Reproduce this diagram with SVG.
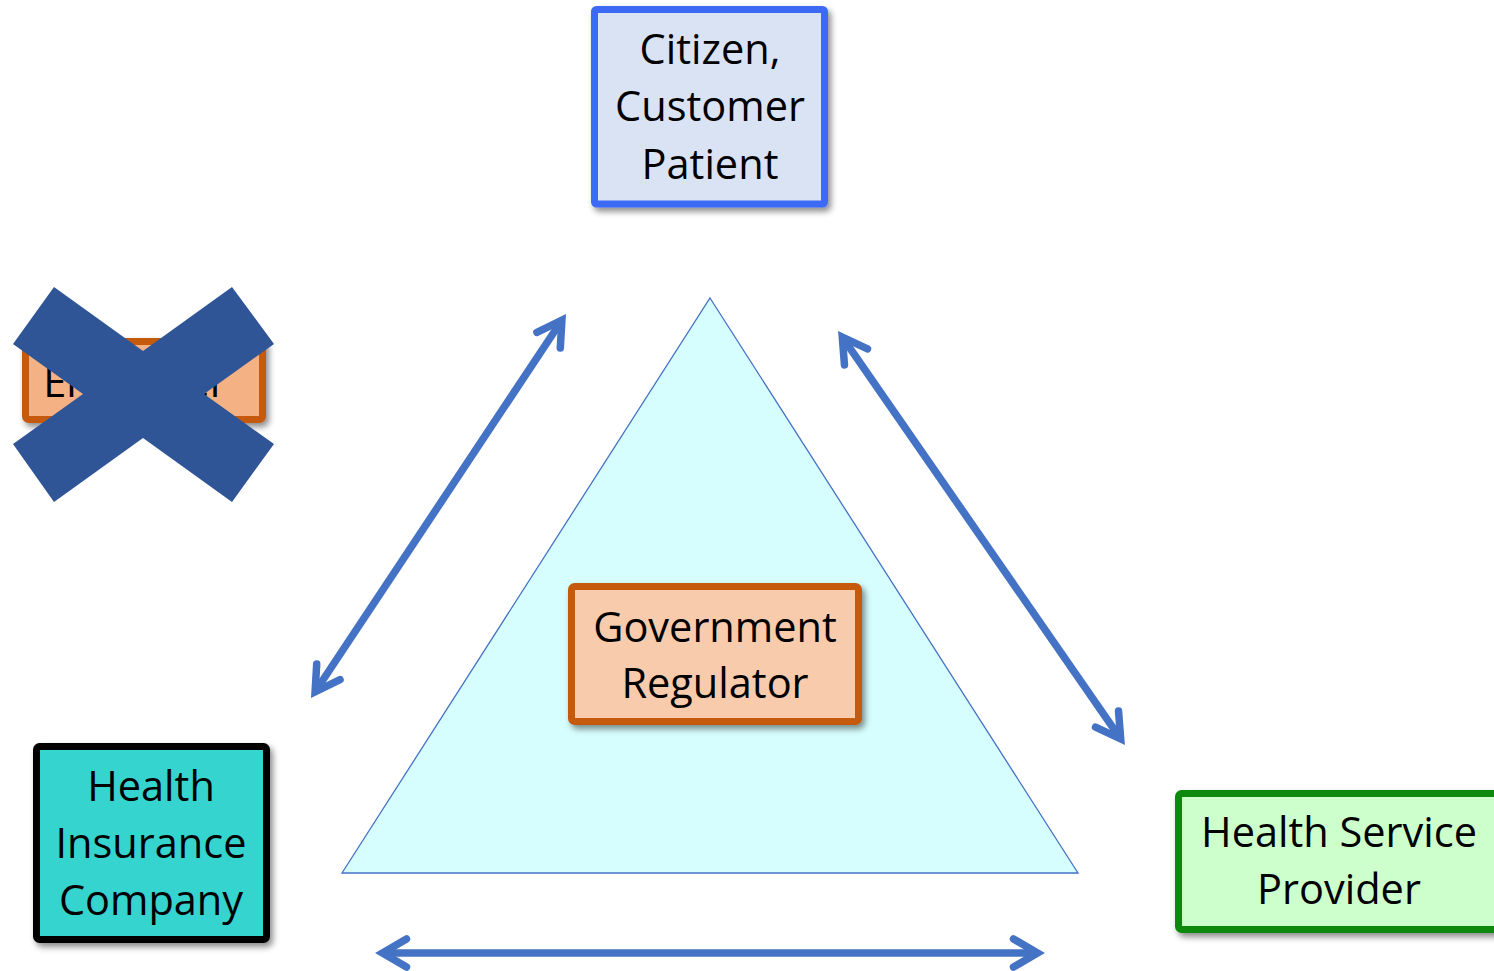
<svg xmlns="http://www.w3.org/2000/svg" width="1494" height="971" viewBox="0 0 1494 971">
<style>
.lbl{font-family:"Open Sans","Liberation Sans",sans-serif;font-size:41.5px;fill:#000;text-anchor:middle}
.box{stroke-width:7;filter:url(#sh)}
.conn{fill:none;stroke:#4472c4;stroke-width:7.5;marker-start:url(#ah);marker-end:url(#ah)}
</style>
<defs>
<filter id="sh" x="-10%" y="-10%" width="130%" height="130%">
<feDropShadow dx="3" dy="4" stdDeviation="3" flood-color="#000" flood-opacity="0.45"/>
</filter>
<marker id="ah" markerUnits="userSpaceOnUse" refX="0" refY="0" markerWidth="40" markerHeight="40" orient="auto-start-reverse" overflow="visible">
<path d="M-24,-14 L0,0 L-24,14" fill="none" stroke="#4472c4" stroke-width="7.5" stroke-linecap="round" stroke-linejoin="miter"/>
</marker>
</defs>
<rect width="1494" height="971" fill="#fff"/>
<g id="regulator-area">
<polygon points="710,298 1078,873 342,873" fill="#d7fefe" stroke="#4472c4" stroke-width="1.3"/>
</g>
<g id="connectors">
<line class="conn" x1="561.9" y1="320.2" x2="315.1" y2="691.8"/>
<line class="conn" x1="842.3" y1="337.2" x2="1120.7" y2="738.8"/>
<line class="conn" x1="382.5" y1="953" x2="1037.5" y2="953"/>
</g>
<g id="citizen">
<rect class="box" x="594.5" y="9.5" width="230" height="194.5" rx="2" fill="#dae3f3" stroke="#3e6bf5"/>
<text class="lbl" x="710" y="64">Citizen,</text>
<text class="lbl" x="710" y="121">Customer</text>
<text class="lbl" x="710" y="179">Patient</text>
</g>
<g id="employer">
<rect class="box" x="25.5" y="341.5" width="237" height="78" rx="3" fill="#f4b183" stroke="#c55a11"/>
<text class="lbl" x="135" y="397">Employer</text>
<polygon points="54,287 143,351 232,287 274,344 204,394 274,444 232,502 143,438 54,502 13,444 83,394 13,344" fill="#2f5597"/>
</g>
<g id="government">
<rect class="box" x="571.5" y="586.5" width="287" height="135" rx="3" fill="#f8cbad" stroke="#c55a11"/>
<text class="lbl" x="715" y="642">Government</text>
<text class="lbl" x="715" y="698">Regulator</text>
</g>
<g id="insurance">
<rect class="box" x="36.5" y="746.5" width="230" height="193" rx="3" fill="#36d4ce" stroke="#000"/>
<text class="lbl" x="151" y="801">Health</text>
<text class="lbl" x="151" y="858">Insurance</text>
<text class="lbl" x="151" y="915">Company</text>
</g>
<g id="provider">
<rect class="box" x="1178.5" y="793.5" width="340" height="136" rx="3" fill="#ccffcc" stroke="#0f8a0f"/>
<text class="lbl" x="1339" y="847">Health Service</text>
<text class="lbl" x="1339" y="904">Provider</text>
</g>
</svg>
